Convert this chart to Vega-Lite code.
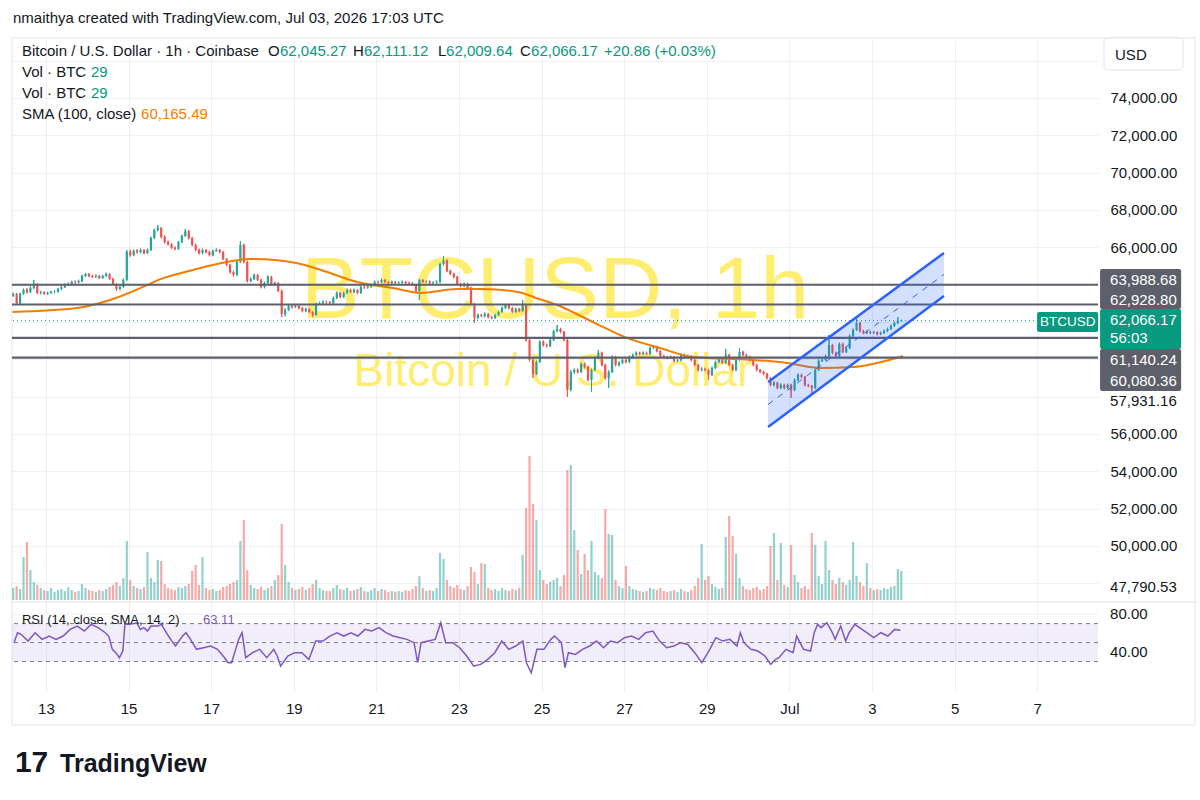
{
"$schema":"https://vega.github.io/schema/vega-lite/v6.json",
"width":1086,"height":652,
"autosize":{"type":"none"},
"padding":{"left":12,"top":40,"right":102,"bottom":108},
"background":"#ffffff",
"config":{"view":{"stroke":null},"font":"Liberation Sans"},
"datasets":{
"candles":[
{"t":269,"o":63.40,"h":63.56,"l":63.34,"c":63.50,"v":12},
{"t":271,"o":63.50,"h":63.55,"l":62.95,"c":63.01,"v":14},
{"t":273,"o":63.01,"h":63.56,"l":62.96,"c":63.50,"v":11},
{"t":275,"o":63.50,"h":63.78,"l":63.44,"c":63.71,"v":43},
{"t":277,"o":63.71,"h":63.80,"l":63.52,"c":63.60,"v":58},
{"t":279,"o":63.60,"h":63.90,"l":63.55,"c":63.82,"v":30},
{"t":281,"o":63.82,"h":64.24,"l":63.76,"c":64.03,"v":18},
{"t":283,"o":64.03,"h":64.08,"l":63.49,"c":63.55,"v":15},
{"t":285,"o":63.55,"h":63.66,"l":63.48,"c":63.58,"v":12},
{"t":287,"o":63.58,"h":63.64,"l":63.44,"c":63.50,"v":10},
{"t":289,"o":63.50,"h":63.61,"l":63.44,"c":63.55,"v":9},
{"t":291,"o":63.55,"h":63.66,"l":63.50,"c":63.60,"v":12},
{"t":293,"o":63.60,"h":63.70,"l":63.53,"c":63.62,"v":8},
{"t":295,"o":63.62,"h":63.82,"l":63.57,"c":63.76,"v":10},
{"t":297,"o":63.76,"h":63.93,"l":63.70,"c":63.87,"v":11},
{"t":299,"o":63.87,"h":64.05,"l":63.81,"c":63.98,"v":9},
{"t":301,"o":63.98,"h":64.10,"l":63.92,"c":64.03,"v":13},
{"t":303,"o":64.03,"h":64.20,"l":63.97,"c":64.14,"v":10},
{"t":305,"o":64.14,"h":64.21,"l":64.05,"c":64.12,"v":8},
{"t":307,"o":64.12,"h":64.26,"l":64.06,"c":64.19,"v":9},
{"t":309,"o":64.19,"h":64.52,"l":64.13,"c":64.46,"v":16},
{"t":311,"o":64.46,"h":64.62,"l":64.40,"c":64.57,"v":12},
{"t":313,"o":64.57,"h":64.61,"l":64.40,"c":64.46,"v":10},
{"t":315,"o":64.46,"h":64.52,"l":64.35,"c":64.41,"v":9},
{"t":317,"o":64.41,"h":64.53,"l":64.36,"c":64.46,"v":8},
{"t":319,"o":64.46,"h":64.50,"l":64.29,"c":64.35,"v":10},
{"t":321,"o":64.35,"h":64.52,"l":64.30,"c":64.46,"v":9},
{"t":323,"o":64.46,"h":64.63,"l":64.41,"c":64.57,"v":11},
{"t":325,"o":64.57,"h":64.60,"l":64.24,"c":64.30,"v":13},
{"t":327,"o":64.30,"h":64.36,"l":63.97,"c":64.03,"v":15},
{"t":329,"o":64.03,"h":64.08,"l":63.66,"c":63.76,"v":18},
{"t":331,"o":63.76,"h":63.94,"l":63.70,"c":63.87,"v":14},
{"t":333,"o":63.87,"h":64.32,"l":63.82,"c":64.25,"v":22},
{"t":335,"o":64.25,"h":65.85,"l":64.20,"c":65.75,"v":59},
{"t":337,"o":65.75,"h":65.86,"l":65.50,"c":65.58,"v":20},
{"t":339,"o":65.58,"h":65.88,"l":65.52,"c":65.80,"v":14},
{"t":341,"o":65.80,"h":65.90,"l":65.66,"c":65.74,"v":12},
{"t":343,"o":65.74,"h":65.93,"l":65.68,"c":65.85,"v":11},
{"t":345,"o":65.85,"h":65.90,"l":65.62,"c":65.69,"v":13},
{"t":347,"o":65.69,"h":65.92,"l":65.63,"c":65.85,"v":48},
{"t":349,"o":65.85,"h":66.56,"l":65.80,"c":66.49,"v":22},
{"t":351,"o":66.49,"h":67.00,"l":66.43,"c":66.92,"v":18},
{"t":353,"o":66.92,"h":67.19,"l":66.85,"c":67.03,"v":40},
{"t":355,"o":67.03,"h":67.08,"l":66.48,"c":66.55,"v":39},
{"t":357,"o":66.55,"h":66.62,"l":66.20,"c":66.28,"v":16},
{"t":359,"o":66.28,"h":66.35,"l":66.10,"c":66.17,"v":12},
{"t":361,"o":66.17,"h":66.22,"l":65.90,"c":65.96,"v":11},
{"t":363,"o":65.96,"h":66.03,"l":65.84,"c":65.91,"v":10},
{"t":365,"o":65.91,"h":66.34,"l":65.86,"c":66.28,"v":13},
{"t":367,"o":66.28,"h":66.67,"l":66.22,"c":66.60,"v":12},
{"t":369,"o":66.60,"h":66.98,"l":66.55,"c":66.87,"v":14},
{"t":371,"o":66.87,"h":66.92,"l":66.42,"c":66.49,"v":16},
{"t":373,"o":66.49,"h":66.55,"l":66.05,"c":66.12,"v":29},
{"t":375,"o":66.12,"h":66.18,"l":65.78,"c":65.85,"v":35},
{"t":377,"o":65.85,"h":65.92,"l":65.62,"c":65.69,"v":15},
{"t":379,"o":65.69,"h":65.92,"l":65.62,"c":65.85,"v":43},
{"t":381,"o":65.85,"h":65.90,"l":65.67,"c":65.74,"v":12},
{"t":383,"o":65.74,"h":65.80,"l":65.51,"c":65.58,"v":10},
{"t":385,"o":65.58,"h":65.86,"l":65.52,"c":65.80,"v":11},
{"t":387,"o":65.80,"h":65.93,"l":65.75,"c":65.85,"v":9},
{"t":389,"o":65.85,"h":65.90,"l":65.68,"c":65.74,"v":10},
{"t":391,"o":65.74,"h":65.79,"l":65.31,"c":65.37,"v":13},
{"t":393,"o":65.37,"h":65.42,"l":64.98,"c":65.05,"v":14},
{"t":395,"o":65.05,"h":65.10,"l":64.60,"c":64.67,"v":16},
{"t":397,"o":64.67,"h":64.74,"l":64.41,"c":64.51,"v":18},
{"t":399,"o":64.51,"h":65.28,"l":64.46,"c":65.21,"v":20},
{"t":401,"o":65.21,"h":66.33,"l":65.15,"c":66.12,"v":59},
{"t":403,"o":66.12,"h":66.18,"l":65.14,"c":65.21,"v":80},
{"t":405,"o":65.21,"h":65.27,"l":64.12,"c":64.19,"v":30},
{"t":407,"o":64.19,"h":64.38,"l":64.13,"c":64.30,"v":15},
{"t":409,"o":64.30,"h":64.58,"l":64.24,"c":64.51,"v":12},
{"t":411,"o":64.51,"h":64.57,"l":64.18,"c":64.25,"v":11},
{"t":413,"o":64.25,"h":64.30,"l":63.80,"c":63.87,"v":13},
{"t":415,"o":63.87,"h":64.15,"l":63.80,"c":64.08,"v":10},
{"t":417,"o":64.08,"h":64.48,"l":64.02,"c":64.41,"v":12},
{"t":419,"o":64.41,"h":64.46,"l":63.92,"c":63.98,"v":14},
{"t":421,"o":63.98,"h":64.15,"l":63.92,"c":64.08,"v":20},
{"t":423,"o":64.08,"h":64.13,"l":63.60,"c":63.66,"v":25},
{"t":425,"o":63.66,"h":63.72,"l":62.26,"c":62.42,"v":76},
{"t":427,"o":62.42,"h":62.72,"l":62.30,"c":62.64,"v":35},
{"t":429,"o":62.64,"h":62.92,"l":62.58,"c":62.85,"v":18},
{"t":431,"o":62.85,"h":62.91,"l":62.72,"c":62.80,"v":12},
{"t":433,"o":62.80,"h":62.93,"l":62.74,"c":62.85,"v":10},
{"t":435,"o":62.85,"h":62.90,"l":62.67,"c":62.74,"v":11},
{"t":437,"o":62.74,"h":62.80,"l":62.51,"c":62.58,"v":13},
{"t":439,"o":62.58,"h":62.76,"l":62.52,"c":62.69,"v":10},
{"t":441,"o":62.69,"h":62.75,"l":62.46,"c":62.53,"v":12},
{"t":443,"o":62.53,"h":62.58,"l":62.26,"c":62.37,"v":16},
{"t":445,"o":62.37,"h":63.02,"l":62.32,"c":62.96,"v":20},
{"t":447,"o":62.96,"h":63.08,"l":62.90,"c":63.01,"v":12},
{"t":449,"o":63.01,"h":63.14,"l":62.95,"c":63.07,"v":10},
{"t":451,"o":63.07,"h":63.13,"l":62.98,"c":63.05,"v":9},
{"t":453,"o":63.05,"h":63.11,"l":62.94,"c":63.01,"v":9},
{"t":455,"o":63.01,"h":63.35,"l":62.96,"c":63.28,"v":12},
{"t":457,"o":63.28,"h":63.62,"l":63.22,"c":63.55,"v":15},
{"t":459,"o":63.55,"h":63.60,"l":63.27,"c":63.33,"v":11},
{"t":461,"o":63.33,"h":63.62,"l":63.28,"c":63.55,"v":10},
{"t":463,"o":63.55,"h":63.78,"l":63.49,"c":63.71,"v":12},
{"t":465,"o":63.71,"h":63.77,"l":63.53,"c":63.60,"v":9},
{"t":467,"o":63.60,"h":63.78,"l":63.54,"c":63.71,"v":10},
{"t":469,"o":63.71,"h":63.76,"l":63.48,"c":63.55,"v":11},
{"t":471,"o":63.55,"h":63.94,"l":63.50,"c":63.87,"v":13},
{"t":473,"o":63.87,"h":63.93,"l":63.77,"c":63.84,"v":9},
{"t":475,"o":63.84,"h":63.97,"l":63.78,"c":63.89,"v":8},
{"t":477,"o":63.89,"h":64.05,"l":63.83,"c":63.98,"v":10},
{"t":479,"o":63.98,"h":64.21,"l":63.92,"c":64.14,"v":12},
{"t":481,"o":64.14,"h":64.20,"l":64.05,"c":64.12,"v":9},
{"t":483,"o":64.12,"h":64.32,"l":64.06,"c":64.25,"v":11},
{"t":485,"o":64.25,"h":64.30,"l":64.08,"c":64.14,"v":10},
{"t":487,"o":64.14,"h":64.20,"l":64.02,"c":64.08,"v":8},
{"t":489,"o":64.08,"h":64.21,"l":64.02,"c":64.14,"v":9},
{"t":491,"o":64.14,"h":64.19,"l":64.02,"c":64.08,"v":8},
{"t":493,"o":64.08,"h":64.17,"l":64.03,"c":64.10,"v":9},
{"t":495,"o":64.10,"h":64.21,"l":64.05,"c":64.14,"v":8},
{"t":497,"o":64.14,"h":64.19,"l":64.01,"c":64.08,"v":10},
{"t":499,"o":64.08,"h":64.15,"l":64.00,"c":64.06,"v":9},
{"t":501,"o":64.06,"h":64.12,"l":63.92,"c":63.98,"v":11},
{"t":503,"o":63.98,"h":64.03,"l":63.60,"c":63.66,"v":14},
{"t":505,"o":63.66,"h":64.31,"l":63.17,"c":64.25,"v":24},
{"t":507,"o":64.25,"h":64.30,"l":64.08,"c":64.14,"v":12},
{"t":509,"o":64.14,"h":64.23,"l":64.08,"c":64.16,"v":9},
{"t":511,"o":64.16,"h":64.21,"l":64.02,"c":64.08,"v":10},
{"t":513,"o":64.08,"h":64.17,"l":64.03,"c":64.10,"v":9},
{"t":515,"o":64.10,"h":64.22,"l":64.05,"c":64.14,"v":12},
{"t":517,"o":64.14,"h":65.18,"l":64.08,"c":65.10,"v":47},
{"t":519,"o":65.10,"h":65.53,"l":65.02,"c":65.30,"v":41},
{"t":521,"o":65.30,"h":65.36,"l":64.66,"c":64.73,"v":20},
{"t":523,"o":64.73,"h":64.80,"l":64.50,"c":64.57,"v":14},
{"t":525,"o":64.57,"h":64.63,"l":64.34,"c":64.41,"v":12},
{"t":527,"o":64.41,"h":64.46,"l":63.97,"c":64.03,"v":15},
{"t":529,"o":64.03,"h":64.09,"l":63.85,"c":63.92,"v":11},
{"t":531,"o":63.92,"h":64.10,"l":63.86,"c":64.03,"v":10},
{"t":533,"o":64.03,"h":64.09,"l":63.75,"c":63.82,"v":14},
{"t":535,"o":63.82,"h":63.87,"l":62.90,"c":62.96,"v":33},
{"t":537,"o":62.96,"h":63.02,"l":61.94,"c":62.21,"v":28},
{"t":539,"o":62.21,"h":62.45,"l":62.14,"c":62.37,"v":16},
{"t":541,"o":62.37,"h":62.43,"l":62.25,"c":62.32,"v":37},
{"t":543,"o":62.32,"h":62.50,"l":62.25,"c":62.42,"v":36},
{"t":545,"o":62.42,"h":62.48,"l":62.19,"c":62.26,"v":12},
{"t":547,"o":62.26,"h":62.32,"l":62.14,"c":62.21,"v":10},
{"t":549,"o":62.21,"h":62.44,"l":62.15,"c":62.37,"v":11},
{"t":551,"o":62.37,"h":62.60,"l":62.31,"c":62.53,"v":9},
{"t":553,"o":62.53,"h":62.81,"l":62.48,"c":62.74,"v":12},
{"t":555,"o":62.74,"h":62.97,"l":62.68,"c":62.90,"v":10},
{"t":557,"o":62.90,"h":62.96,"l":62.67,"c":62.74,"v":9},
{"t":559,"o":62.74,"h":62.79,"l":62.46,"c":62.53,"v":11},
{"t":561,"o":62.53,"h":62.76,"l":62.47,"c":62.69,"v":10},
{"t":563,"o":62.69,"h":62.75,"l":62.51,"c":62.58,"v":12},
{"t":565,"o":62.58,"h":63.17,"l":62.52,"c":62.91,"v":45},
{"t":567,"o":62.91,"h":62.97,"l":60.95,"c":61.03,"v":92},
{"t":569,"o":61.03,"h":61.10,"l":59.88,"c":59.96,"v":144},
{"t":571,"o":59.96,"h":60.05,"l":59.00,"c":59.21,"v":96},
{"t":573,"o":59.21,"h":59.93,"l":59.15,"c":59.85,"v":80},
{"t":575,"o":59.85,"h":61.00,"l":59.80,"c":60.93,"v":30},
{"t":577,"o":60.93,"h":61.00,"l":60.68,"c":60.76,"v":20},
{"t":579,"o":60.76,"h":60.83,"l":60.63,"c":60.71,"v":16},
{"t":581,"o":60.71,"h":61.10,"l":60.65,"c":61.03,"v":18},
{"t":583,"o":61.03,"h":61.58,"l":60.97,"c":61.51,"v":20},
{"t":585,"o":61.51,"h":61.83,"l":61.45,"c":61.62,"v":22},
{"t":587,"o":61.62,"h":61.68,"l":61.39,"c":61.46,"v":14},
{"t":589,"o":61.46,"h":61.52,"l":60.96,"c":61.03,"v":25},
{"t":591,"o":61.03,"h":61.10,"l":57.98,"c":58.35,"v":130},
{"t":593,"o":58.35,"h":59.40,"l":58.28,"c":59.32,"v":135},
{"t":595,"o":59.32,"h":59.50,"l":59.22,"c":59.42,"v":70},
{"t":597,"o":59.42,"h":59.50,"l":59.24,"c":59.32,"v":50},
{"t":599,"o":59.32,"h":59.82,"l":59.26,"c":59.75,"v":26},
{"t":601,"o":59.75,"h":59.82,"l":59.50,"c":59.59,"v":46},
{"t":603,"o":59.59,"h":59.65,"l":58.82,"c":58.89,"v":30},
{"t":605,"o":58.89,"h":59.50,"l":58.25,"c":59.42,"v":59},
{"t":607,"o":59.42,"h":60.14,"l":59.36,"c":60.07,"v":28},
{"t":609,"o":60.07,"h":60.50,"l":60.01,"c":60.34,"v":25},
{"t":611,"o":60.34,"h":60.40,"l":59.62,"c":59.69,"v":22},
{"t":613,"o":59.69,"h":59.75,"l":58.90,"c":58.99,"v":91},
{"t":615,"o":58.99,"h":59.40,"l":58.46,"c":59.32,"v":66},
{"t":617,"o":59.32,"h":60.20,"l":59.26,"c":60.12,"v":65},
{"t":619,"o":60.12,"h":60.18,"l":59.62,"c":59.69,"v":20},
{"t":621,"o":59.69,"h":59.88,"l":59.62,"c":59.80,"v":14},
{"t":623,"o":59.80,"h":60.03,"l":59.74,"c":59.96,"v":12},
{"t":625,"o":59.96,"h":60.02,"l":59.78,"c":59.85,"v":34},
{"t":627,"o":59.85,"h":60.19,"l":59.79,"c":60.12,"v":14},
{"t":629,"o":60.12,"h":60.30,"l":60.06,"c":60.23,"v":11},
{"t":631,"o":60.23,"h":60.41,"l":60.17,"c":60.34,"v":10},
{"t":633,"o":60.34,"h":60.40,"l":60.21,"c":60.28,"v":9},
{"t":635,"o":60.28,"h":60.41,"l":60.22,"c":60.34,"v":8},
{"t":637,"o":60.34,"h":60.40,"l":60.21,"c":60.28,"v":9},
{"t":639,"o":60.28,"h":60.67,"l":60.22,"c":60.60,"v":12},
{"t":641,"o":60.60,"h":60.76,"l":60.54,"c":60.66,"v":11},
{"t":643,"o":60.66,"h":60.71,"l":60.37,"c":60.44,"v":10},
{"t":645,"o":60.44,"h":60.49,"l":60.10,"c":60.17,"v":12},
{"t":647,"o":60.17,"h":60.23,"l":60.05,"c":60.12,"v":9},
{"t":649,"o":60.12,"h":60.18,"l":60.00,"c":60.07,"v":8},
{"t":651,"o":60.07,"h":60.19,"l":60.01,"c":60.12,"v":9},
{"t":653,"o":60.12,"h":60.17,"l":59.84,"c":59.91,"v":10},
{"t":655,"o":59.91,"h":60.03,"l":59.85,"c":59.95,"v":8},
{"t":657,"o":59.95,"h":60.30,"l":59.89,"c":60.23,"v":11},
{"t":659,"o":60.23,"h":60.29,"l":60.05,"c":60.12,"v":9},
{"t":661,"o":60.12,"h":60.24,"l":60.06,"c":60.17,"v":8},
{"t":663,"o":60.17,"h":60.22,"l":59.89,"c":59.96,"v":10},
{"t":665,"o":59.96,"h":60.02,"l":59.62,"c":59.69,"v":14},
{"t":667,"o":59.69,"h":59.75,"l":59.35,"c":59.42,"v":22},
{"t":669,"o":59.42,"h":59.56,"l":59.35,"c":59.48,"v":56},
{"t":671,"o":59.48,"h":59.55,"l":59.35,"c":59.42,"v":20},
{"t":673,"o":59.42,"h":59.48,"l":58.89,"c":59.16,"v":24},
{"t":675,"o":59.16,"h":59.60,"l":59.10,"c":59.53,"v":16},
{"t":677,"o":59.53,"h":59.92,"l":59.47,"c":59.85,"v":13},
{"t":679,"o":59.85,"h":60.08,"l":59.78,"c":60.01,"v":11},
{"t":681,"o":60.01,"h":60.07,"l":59.73,"c":59.80,"v":12},
{"t":683,"o":59.80,"h":60.55,"l":59.74,"c":60.23,"v":63},
{"t":685,"o":60.23,"h":60.29,"l":59.62,"c":59.69,"v":84},
{"t":687,"o":59.69,"h":59.75,"l":59.35,"c":59.42,"v":64},
{"t":689,"o":59.42,"h":60.03,"l":59.36,"c":59.96,"v":46},
{"t":691,"o":59.96,"h":60.60,"l":59.90,"c":60.39,"v":22},
{"t":693,"o":60.39,"h":60.45,"l":60.16,"c":60.23,"v":14},
{"t":695,"o":60.23,"h":60.29,"l":60.05,"c":60.12,"v":11},
{"t":697,"o":60.12,"h":60.18,"l":59.89,"c":59.96,"v":10},
{"t":699,"o":59.96,"h":60.02,"l":59.62,"c":59.69,"v":12},
{"t":701,"o":59.69,"h":59.75,"l":59.35,"c":59.42,"v":13},
{"t":703,"o":59.42,"h":59.48,"l":59.25,"c":59.32,"v":10},
{"t":705,"o":59.32,"h":59.38,"l":59.14,"c":59.21,"v":11},
{"t":707,"o":59.21,"h":59.27,"l":58.92,"c":58.99,"v":14},
{"t":709,"o":58.99,"h":59.05,"l":58.55,"c":58.62,"v":54},
{"t":711,"o":58.62,"h":58.82,"l":58.55,"c":58.73,"v":67},
{"t":713,"o":58.73,"h":58.79,"l":58.39,"c":58.46,"v":20},
{"t":715,"o":58.46,"h":58.70,"l":58.40,"c":58.62,"v":57},
{"t":717,"o":58.62,"h":58.68,"l":58.39,"c":58.46,"v":15},
{"t":719,"o":58.46,"h":58.69,"l":58.40,"c":58.62,"v":13},
{"t":721,"o":58.62,"h":58.68,"l":57.93,"c":58.35,"v":55},
{"t":723,"o":58.35,"h":58.96,"l":58.29,"c":58.89,"v":25},
{"t":725,"o":58.89,"h":59.23,"l":58.83,"c":59.16,"v":18},
{"t":727,"o":59.16,"h":59.22,"l":58.98,"c":59.05,"v":12},
{"t":729,"o":59.05,"h":59.10,"l":58.55,"c":58.62,"v":14},
{"t":731,"o":58.62,"h":58.68,"l":58.50,"c":58.57,"v":11},
{"t":733,"o":58.57,"h":58.62,"l":58.14,"c":58.46,"v":67},
{"t":735,"o":58.46,"h":59.50,"l":58.40,"c":59.42,"v":55},
{"t":737,"o":59.42,"h":59.98,"l":59.36,"c":59.91,"v":24},
{"t":739,"o":59.91,"h":60.04,"l":59.85,"c":59.96,"v":16},
{"t":741,"o":59.96,"h":60.24,"l":59.90,"c":60.17,"v":59},
{"t":743,"o":60.17,"h":61.30,"l":60.11,"c":60.76,"v":30},
{"t":745,"o":60.76,"h":60.82,"l":60.27,"c":60.34,"v":20},
{"t":747,"o":60.34,"h":60.40,"l":60.10,"c":60.17,"v":16},
{"t":749,"o":60.17,"h":60.89,"l":60.11,"c":60.82,"v":22},
{"t":751,"o":60.82,"h":60.88,"l":60.32,"c":60.39,"v":18},
{"t":753,"o":60.39,"h":60.68,"l":60.33,"c":60.60,"v":15},
{"t":755,"o":60.60,"h":61.32,"l":60.54,"c":61.25,"v":20},
{"t":757,"o":61.25,"h":61.64,"l":61.19,"c":61.57,"v":58},
{"t":759,"o":61.57,"h":62.21,"l":61.51,"c":61.94,"v":24},
{"t":761,"o":61.94,"h":62.00,"l":61.44,"c":61.51,"v":18},
{"t":763,"o":61.51,"h":61.57,"l":61.34,"c":61.41,"v":14},
{"t":765,"o":61.41,"h":61.54,"l":61.34,"c":61.46,"v":37},
{"t":767,"o":61.46,"h":61.52,"l":61.34,"c":61.41,"v":12},
{"t":769,"o":61.41,"h":61.51,"l":61.35,"c":61.44,"v":10},
{"t":771,"o":61.44,"h":61.50,"l":61.28,"c":61.35,"v":11},
{"t":773,"o":61.35,"h":61.48,"l":61.29,"c":61.41,"v":10},
{"t":775,"o":61.41,"h":61.58,"l":61.35,"c":61.51,"v":12},
{"t":777,"o":61.51,"h":61.69,"l":61.45,"c":61.62,"v":11},
{"t":779,"o":61.62,"h":61.85,"l":61.56,"c":61.78,"v":13},
{"t":781,"o":61.78,"h":62.01,"l":61.72,"c":61.94,"v":14},
{"t":783,"o":61.94,"h":62.26,"l":61.88,"c":62.045,"v":31},
{"t":785,"o":62.045,"h":62.111,"l":62.010,"c":62.066,"v":29}
],
"sma":[
{"t":268.6,"s":62.53},{"t":306.1,"s":62.74},{"t":325.2,"s":63.17},{"t":344.4,"s":63.87},{"t":354.9,"s":64.30},{"t":373.5,"s":64.78},{"t":393.2,"s":65.21},{"t":406.6,"s":65.37},{"t":421.1,"s":65.31},{"t":433.3,"s":65.15},{"t":447.8,"s":64.78},{"t":468.8,"s":64.14},{"t":489.7,"s":63.81},{"t":505.9,"s":63.55},{"t":526.9,"s":63.76},{"t":541.4,"s":63.76},{"t":562.3,"s":63.60},{"t":572.8,"s":63.28},{"t":585.0,"s":62.90},{"t":605.9,"s":61.99},{"t":625.6,"s":61.14},{"t":644.8,"s":60.60},{"t":664.0,"s":60.12},{"t":698.9,"s":59.96},{"t":718.6,"s":59.80},{"t":737.8,"s":59.53},{"t":757.0,"s":59.58},{"t":786.0,"s":60.17}
],
"rsi":[
{"t":269.5,"r":49.9},{"t":271.5,"r":60.4},{"t":273.6,"r":58.7},{"t":277.6,"r":51.6},{"t":281.7,"r":60.4},{"t":285.8,"r":53.4},{"t":289.9,"r":56.9},{"t":293.9,"r":53.4},{"t":298,"r":56.9},{"t":302.1,"r":63.9},{"t":306.2,"r":67.4},{"t":310.3,"r":62.2},{"t":314.3,"r":69.2},{"t":318.4,"r":65.7},{"t":322.5,"r":60.4},{"t":324.5,"r":56.9},{"t":326.6,"r":42.9},{"t":328.6,"r":39.4},{"t":330.7,"r":34.1},{"t":332.7,"r":41.1},{"t":333.9,"r":69.2},{"t":336.8,"r":69.2},{"t":340.8,"r":70.9},{"t":342.9,"r":63.9},{"t":344.9,"r":65.7},{"t":347,"r":62.2},{"t":349,"r":67.4},{"t":353.1,"r":67.4},{"t":355.1,"r":69.2},{"t":359.2,"r":56.9},{"t":361.2,"r":51.6},{"t":363.3,"r":46.4},{"t":367.4,"r":56.9},{"t":369.4,"r":60.4},{"t":371.4,"r":55.2},{"t":375.5,"r":42.9},{"t":379.6,"r":44.6},{"t":383.7,"r":46.4},{"t":387.7,"r":42.9},{"t":391.8,"r":34.1},{"t":393.9,"r":28.8},{"t":395.9,"r":28.8},{"t":400,"r":53.4},{"t":402,"r":60.4},{"t":404.1,"r":34.1},{"t":408.1,"r":39.4},{"t":412.2,"r":42.9},{"t":416.3,"r":34.1},{"t":420.4,"r":42.9},{"t":422.4,"r":35.9},{"t":424.4,"r":25.3},{"t":428.5,"r":35.9},{"t":432.6,"r":39.4},{"t":436.7,"r":39.4},{"t":440.8,"r":32.3},{"t":444.8,"r":51.6},{"t":448.9,"r":51.6},{"t":453,"r":56.9},{"t":457.1,"r":60.4},{"t":461.1,"r":56.9},{"t":465.2,"r":60.4},{"t":469.3,"r":56.9},{"t":473.4,"r":63.9},{"t":477.4,"r":62.2},{"t":481.5,"r":65.7},{"t":485.6,"r":60.4},{"t":489.7,"r":56.9},{"t":493.8,"r":55.2},{"t":497.8,"r":53.4},{"t":501.9,"r":49.9},{"t":504,"r":28.8},{"t":506,"r":49.9},{"t":510.1,"r":51.6},{"t":514.2,"r":53.4},{"t":517.4,"r":70.9},{"t":520.3,"r":49.9},{"t":524.3,"r":49.9},{"t":528.4,"r":44.6},{"t":532.5,"r":35.9},{"t":536.6,"r":25.3},{"t":540.6,"r":27.1},{"t":544.7,"r":32.3},{"t":548.8,"r":39.4},{"t":552.9,"r":51.6},{"t":556.9,"r":42.9},{"t":561,"r":46.4},{"t":565.1,"r":51.6},{"t":567.2,"r":28.8},{"t":570,"r":18.3},{"t":573.3,"r":42.9},{"t":577.4,"r":42.9},{"t":581.4,"r":53.4},{"t":583.5,"r":56.9},{"t":587.5,"r":49.9},{"t":589.6,"r":23.6},{"t":591.6,"r":39.4},{"t":595.7,"r":37.6},{"t":599.8,"r":42.9},{"t":603.9,"r":46.4},{"t":607.9,"r":51.6},{"t":612,"r":44.6},{"t":616.1,"r":51.6},{"t":620.2,"r":49.9},{"t":624.2,"r":55.2},{"t":628.3,"r":56.9},{"t":632.4,"r":53.4},{"t":636.5,"r":60.4},{"t":640.6,"r":62.2},{"t":644.6,"r":51.6},{"t":648.7,"r":44.6},{"t":652.8,"r":46.4},{"t":656.9,"r":49.9},{"t":660.9,"r":48.1},{"t":665,"r":39.4},{"t":669.1,"r":28.8},{"t":673.2,"r":41.1},{"t":677.3,"r":55.2},{"t":681.3,"r":51.6},{"t":685.4,"r":53.4},{"t":689.5,"r":46.4},{"t":691.5,"r":60.4},{"t":693.6,"r":49.9},{"t":697.6,"r":42.9},{"t":701.7,"r":41.1},{"t":705.8,"r":35.9},{"t":709.1,"r":27.1},{"t":711.9,"r":32.3},{"t":713.9,"r":34.1},{"t":718,"r":42.9},{"t":722.1,"r":39.4},{"t":724.2,"r":56.9},{"t":728.2,"r":42.9},{"t":732.3,"r":41.1},{"t":734.4,"r":60.4},{"t":736.4,"r":69.2},{"t":738.4,"r":65.7},{"t":741.7,"r":70.9},{"t":744.5,"r":62.2},{"t":746.6,"r":53.4},{"t":749.8,"r":67.4},{"t":752.7,"r":51.6},{"t":754.7,"r":60.4},{"t":758,"r":69.2},{"t":760.8,"r":65.7},{"t":764.9,"r":60.4},{"t":769,"r":55.2},{"t":773.1,"r":60.4},{"t":777.2,"r":56.9},{"t":781.2,"r":63.9},{"t":784.5,"r":63.1}
],
"levels":[{"p":63.98868},{"p":62.9288},{"p":61.14024},{"p":60.08036}],
"channel":[{"t":707.6,"lo":56.37,"mid":57.57,"hi":58.78},{"t":809.8,"lo":63.39,"mid":64.54,"hi":65.69}],
"boxes":[
{"kind":"lvl","t1":900.5,"t2":947.6,"p1":64.83,"p2":62.69},
{"kind":"cur","t1":900.5,"t2":947.6,"p1":62.69,"p2":60.55},
{"kind":"lvl","t1":900.5,"t2":947.6,"p1":60.55,"p2":58.30},
{"kind":"cur","t1":863.9,"t2":899.4,"p1":62.53,"p2":61.46},
{"kind":"usd","t1":902.8,"t2":948.7,"p1":77.21,"p2":75.49}
],
"notes":[
{"k":"hdr","text":"nmaithya created with TradingView.com, Jul 03, 2026 17:03 UTC","t":268.9,"p":78.28},
{"k":"dk","text":"Bitcoin / U.S. Dollar · 1h · Coinbase","t":274.1,"p":76.51},
{"k":"dk","text":"O","t":417.1,"p":76.51},
{"k":"dk","text":"H","t":466.4,"p":76.51},
{"k":"dk","text":"L","t":515.8,"p":76.51},
{"k":"dk","text":"C","t":563.5,"p":76.51},
{"k":"gr","text":"62,045.27","t":424.0,"p":76.51},
{"k":"gr","text":"62,111.12","t":472.8,"p":76.51},
{"k":"gr","text":"62,009.64","t":520.5,"p":76.51},
{"k":"gr","text":"62,066.17","t":569.9,"p":76.51},
{"k":"gr","text":"+20.86 (+0.03%)","t":612.3,"p":76.51},
{"k":"dk","text":"Vol · BTC","t":274.1,"p":75.39},
{"k":"gr","text":"29","t":314.2,"p":75.39},
{"k":"dk","text":"Vol · BTC","t":274.1,"p":74.26},
{"k":"gr","text":"29","t":314.2,"p":74.26},
{"k":"dk","text":"SMA (100, close)","t":274.1,"p":73.14},
{"k":"or","text":"60,165.49","t":343.3,"p":73.14},
{"k":"ax","text":"57,931.16","t":906.3,"p":57.76},
{"k":"ax","text":"47,790.53","t":906.3,"p":47.80},
{"k":"ax","text":"USD","t":909.2,"p":76.30},
{"k":"wh","text":"63,988.68","t":906.3,"p":64.24},
{"k":"wh","text":"62,928.80","t":906.3,"p":63.17},
{"k":"wh","text":"62,066.17","t":906.3,"p":62.10},
{"k":"wh","text":"56:03","t":906.3,"p":61.14},
{"k":"wh","text":"61,140.24","t":906.3,"p":59.96},
{"k":"wh","text":"60,080.36","t":906.3,"p":58.83},
{"k":"whc","text":"BTCUSD","t":881.7,"p":61.99},
{"k":"wm1","text":"BTCUSD, 1h","t":583.8,"p":62.21},
{"k":"wm2","text":"Bitcoin / U.S. Dollar","t":582.6,"p":58.56},
{"k":"logo","text":"TradingView","t":296.2,"p":37.88},
{"k":"logo17","text":"17","t":270.0,"p":37.88}
],
"rnotes":[
{"k":"ax","text":"80.00","t":906.3,"r":80},
{"k":"ax","text":"40.00","t":906.3,"r":40},
{"k":"dk","text":"RSI (14, close, SMA, 14, 2)","t":274.1,"r":73.7},
{"k":"pu","text":"63.11","t":379.3,"r":73.7}
]
},
"resolve":{"scale":{"y":"independent"}},
"layer":[
{"layer":[
 {"data":{"name":"candles"},"mark":{"type":"rule","strokeWidth":1},
  "encoding":{"x":{"field":"t","type":"quantitative","scale":{"domain":[268.3,899.3],"nice":false,"zero":false,"padding":0},
    "axis":{"values":[288,336,384,432,480,528,576,624,672,720,768,816,864],"labelExpr":"datum.value==720 ? 'Jul' : (datum.value>720 ? ''+(datum.value/24-29) : ''+(datum.value/24+1))","grid":true,"gridColor":"#eef0f5","domain":false,"ticks":false,"tickSize":0,"labelPadding":9,"labelFontSize":15,"labelColor":"#131722","title":null}},
   "y":{"field":"l","type":"quantitative","scale":{"domain":[42.17,77.1],"nice":false,"zero":false},
    "axis":{"orient":"right","values":[48,50,52,54,56,58,60,62,64,66,68,70,72,74,76],"labelExpr":"((datum.value>=49 && datum.value<=57) || (datum.value>=65 && datum.value<=75)) ? format(datum.value*1000, ',.2f') : ''","grid":true,"gridColor":"#eef0f5","domain":false,"ticks":false,"tickSize":0,"labelPadding":12,"labelFontSize":15,"labelColor":"#131722","labelAlign":"left","title":null}},
   "y2":{"field":"h"},
   "color":{"condition":{"test":"datum.c>=datum.o","value":"#26a69a"},"value":"#ef5350"}}},
 {"data":{"values":[{"t1":268.3,"t2":955.7,"p1":77.21,"p2":40.4}]},"mark":{"type":"rect","fill":"transparent","stroke":"#e0e3eb","strokeWidth":1},
  "encoding":{"x":{"field":"t1","type":"quantitative"},"x2":{"field":"t2"},"y":{"field":"p1","type":"quantitative"},"y2":{"field":"p2"}}},
 {"data":{"name":"notes"},"transform":[{"filter":"datum.k=='wm1'"}],"mark":{"type":"text","fontSize":88,"color":"#ffe94d","opacity":0.8,"align":"center","baseline":"alphabetic"},
  "encoding":{"x":{"field":"t","type":"quantitative"},"y":{"field":"p","type":"quantitative"},"text":{"field":"text"}}},
 {"data":{"name":"notes"},"transform":[{"filter":"datum.k=='wm2'"}],"mark":{"type":"text","fontSize":46,"color":"#ffe94d","opacity":0.8,"align":"center","baseline":"alphabetic"},
  "encoding":{"x":{"field":"t","type":"quantitative"},"y":{"field":"p","type":"quantitative"},"text":{"field":"text"}}},
 {"data":{"name":"candles"},"mark":{"type":"rule","strokeWidth":1},
  "encoding":{"x":{"field":"t","type":"quantitative"},"y":{"field":"l","type":"quantitative"},"y2":{"field":"h"},
   "color":{"condition":{"test":"datum.c>=datum.o","value":"#26a69a"},"value":"#ef5350"}}},
 {"data":{"name":"candles"},"mark":{"type":"bar","size":2.2},
  "encoding":{"x":{"field":"t","type":"quantitative"},"y":{"field":"o","type":"quantitative"},"y2":{"field":"c"},
   "color":{"condition":{"test":"datum.c>=datum.o","value":"#26a69a"},"value":"#ef5350"}}},
 {"data":{"name":"sma"},"mark":{"type":"line","color":"#f57c00","strokeWidth":2,"interpolate":"monotone"},
  "encoding":{"x":{"field":"t","type":"quantitative"},"y":{"field":"s","type":"quantitative"}}},
 {"data":{"name":"levels"},"mark":{"type":"rule","color":"#5d606b","strokeWidth":2.2},
  "encoding":{"y":{"field":"p","type":"quantitative"}}},
 {"data":{"values":[{"p":62.066}]},"mark":{"type":"rule","color":"#089981","strokeWidth":1,"strokeDash":[1,3]},
  "encoding":{"y":{"field":"p","type":"quantitative"}}},
 {"data":{"name":"channel"},"mark":{"type":"area","color":"#2962ff","opacity":0.2},
  "encoding":{"x":{"field":"t","type":"quantitative"},"y":{"field":"lo","type":"quantitative"},"y2":{"field":"hi"}}},
 {"data":{"name":"channel"},"mark":{"type":"line","color":"#2962ff","strokeWidth":2.5},
  "encoding":{"x":{"field":"t","type":"quantitative"},"y":{"field":"hi","type":"quantitative"}}},
 {"data":{"name":"channel"},"mark":{"type":"line","color":"#2962ff","strokeWidth":2.5},
  "encoding":{"x":{"field":"t","type":"quantitative"},"y":{"field":"lo","type":"quantitative"}}},
 {"data":{"name":"channel"},"mark":{"type":"line","color":"#2962ff","strokeWidth":1,"strokeDash":[6,6]},
  "encoding":{"x":{"field":"t","type":"quantitative"},"y":{"field":"mid","type":"quantitative"}}},
 {"data":{"values":[{}]},"mark":{"type":"rule","color":"#e0e3eb","strokeWidth":1},
  "encoding":{"x":{"datum":268.3,"type":"quantitative"},"x2":{"datum":955.7},"y":{"datum":46.99,"type":"quantitative"}}},
 {"data":{"name":"boxes"},"transform":[{"filter":"datum.kind!='usd'"}],"mark":{"type":"rect","cornerRadius":2},
  "encoding":{"x":{"field":"t1","type":"quantitative"},"x2":{"field":"t2"},"y":{"field":"p1","type":"quantitative"},"y2":{"field":"p2"},
   "fill":{"field":"kind","type":"nominal","scale":{"domain":["lvl","cur"],"range":["#5d606b","#089981"]},"legend":null}}},
 {"data":{"name":"boxes"},"transform":[{"filter":"datum.kind=='usd'"}],"mark":{"type":"rect","cornerRadius":4,"fill":"#ffffff","stroke":"#e0e3eb","strokeWidth":1},
  "encoding":{"x":{"field":"t1","type":"quantitative"},"x2":{"field":"t2"},"y":{"field":"p1","type":"quantitative"},"y2":{"field":"p2"}}},
 {"data":{"name":"notes"},"transform":[{"filter":"datum.k=='hdr' || datum.k=='dk' || datum.k=='ax'"}],"mark":{"type":"text","fontSize":15,"color":"#131722","align":"left","baseline":"middle"},
  "encoding":{"x":{"field":"t","type":"quantitative"},"y":{"field":"p","type":"quantitative"},"text":{"field":"text"}}},
 {"data":{"name":"notes"},"transform":[{"filter":"datum.k=='gr'"}],"mark":{"type":"text","fontSize":15,"color":"#089981","align":"left","baseline":"middle"},
  "encoding":{"x":{"field":"t","type":"quantitative"},"y":{"field":"p","type":"quantitative"},"text":{"field":"text"}}},
 {"data":{"name":"notes"},"transform":[{"filter":"datum.k=='or'"}],"mark":{"type":"text","fontSize":15,"color":"#f57c00","align":"left","baseline":"middle"},
  "encoding":{"x":{"field":"t","type":"quantitative"},"y":{"field":"p","type":"quantitative"},"text":{"field":"text"}}},
 {"data":{"name":"notes"},"transform":[{"filter":"datum.k=='wh'"}],"mark":{"type":"text","fontSize":15,"color":"#ffffff","align":"left","baseline":"middle"},
  "encoding":{"x":{"field":"t","type":"quantitative"},"y":{"field":"p","type":"quantitative"},"text":{"field":"text"}}},
 {"data":{"name":"notes"},"transform":[{"filter":"datum.k=='whc'"}],"mark":{"type":"text","fontSize":13.5,"color":"#ffffff","align":"center","baseline":"middle"},
  "encoding":{"x":{"field":"t","type":"quantitative"},"y":{"field":"p","type":"quantitative"},"text":{"field":"text"}}},
 {"data":{"name":"notes"},"transform":[{"filter":"datum.k=='logo'"}],"mark":{"type":"text","fontSize":25,"fontWeight":"bold","color":"#131722","align":"left","baseline":"alphabetic"},
  "encoding":{"x":{"field":"t","type":"quantitative"},"y":{"field":"p","type":"quantitative"},"text":{"field":"text"}}},
 {"data":{"name":"notes"},"transform":[{"filter":"datum.k=='logo17'"}],"mark":{"type":"text","fontSize":30,"fontWeight":900,"color":"#131722","align":"left","baseline":"alphabetic"},
  "encoding":{"x":{"field":"t","type":"quantitative"},"y":{"field":"p","type":"quantitative"},"text":{"field":"text"}}}
]},
{"data":{"name":"candles"},"mark":{"type":"bar","size":2.2,"opacity":0.5},
 "encoding":{"x":{"field":"t","type":"quantitative"},
  "y":{"field":"v","type":"quantitative","scale":{"domain":[-92,560],"nice":false,"zero":false},"axis":null},
  "y2":{"datum":0},
  "color":{"condition":{"test":"datum.c>=datum.o","value":"#26a69a"},"value":"#ef5350"}}},
{"layer":[
 {"data":{"values":[{}]},"mark":{"type":"rect","color":"#7e57c2","opacity":0.1},
  "encoding":{"y":{"datum":70,"type":"quantitative","axis":null},"y2":{"datum":30}}},
 {"data":{"values":[{"r":80},{"r":40}]},"mark":{"type":"rule","color":"#eceff4","strokeWidth":1},
  "encoding":{"y":{"field":"r","type":"quantitative","axis":null}}},
 {"data":{"values":[{"r":70},{"r":50},{"r":30}]},"mark":{"type":"rule","color":"#787b86","strokeWidth":1,"strokeDash":[4,4]},
  "encoding":{"y":{"field":"r","type":"quantitative","axis":null}}},
 {"data":{"name":"rsi"},"mark":{"type":"line","color":"#7e57c2","strokeWidth":1.5},
  "encoding":{"x":{"field":"t","type":"quantitative"},"y":{"field":"r","type":"quantitative","scale":{"domain":[-2,684.3],"nice":false,"zero":false},"axis":null}}},
 {"data":{"name":"rnotes"},"transform":[{"filter":"datum.k=='ax'"}],"mark":{"type":"text","fontSize":15,"color":"#131722","align":"left","baseline":"middle"},
  "encoding":{"x":{"field":"t","type":"quantitative"},"y":{"field":"r","type":"quantitative","axis":null},"text":{"field":"text"}}},
 {"data":{"name":"rnotes"},"transform":[{"filter":"datum.k=='dk'"}],"mark":{"type":"text","fontSize":13,"color":"#131722","align":"left","baseline":"middle"},
  "encoding":{"x":{"field":"t","type":"quantitative"},"y":{"field":"r","type":"quantitative","axis":null},"text":{"field":"text"}}},
 {"data":{"name":"rnotes"},"transform":[{"filter":"datum.k=='pu'"}],"mark":{"type":"text","fontSize":13,"color":"#7e57c2","align":"left","baseline":"middle"},
  "encoding":{"x":{"field":"t","type":"quantitative"},"y":{"field":"r","type":"quantitative","axis":null},"text":{"field":"text"}}}
]}
]
}
